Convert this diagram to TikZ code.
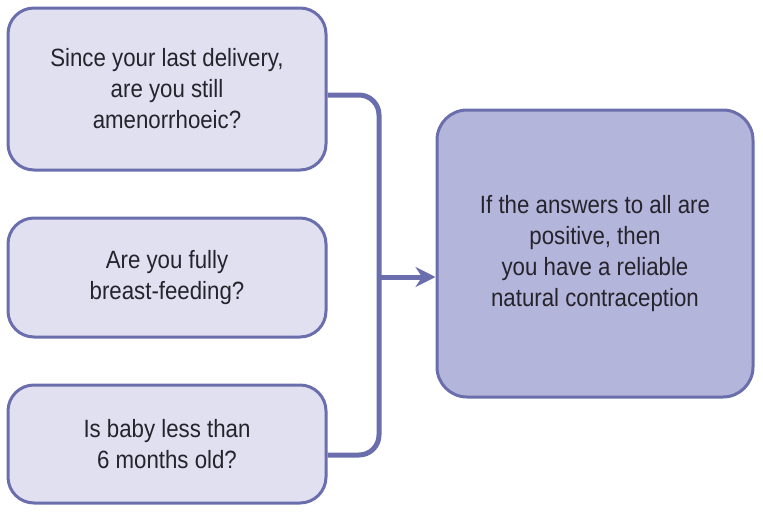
\documentclass[tikz,border=0pt]{standalone}
\usepackage{fontspec}
\setmainfont[FakeStretch=0.89]{Liberation Sans}
\usetikzlibrary{arrows.meta,positioning}

\definecolor{qborder}{HTML}{6A6EAD}
\definecolor{qfill}{HTML}{E0E0F0}
\definecolor{afill}{HTML}{B4B5DB}
\definecolor{qtext}{HTML}{25232B}

\tikzset{
  question/.style={draw=qborder, line width=3pt, fill=qfill, rounded corners=26pt,
    minimum width=318pt, align=center, text=qtext, font=\fontsize{25}{31}\selectfont},
  answer/.style={question, fill=afill, minimum width=316pt, minimum height=287pt, rounded corners=30pt},
  link/.style={draw=qborder, line width=5pt, rounded corners=20pt},
}

\begin{document}
\begin{tikzpicture}[x=1pt, y=-1pt, >={Stealth[length=20pt,width=20pt]}]
    \useasboundingbox (0,0) rectangle (763,514);
    \node[question, minimum height=162pt] (q1) at (167,89) {Since your last delivery,\\are you still\\amenorrhoeic?};
    \node[question, minimum height=119pt, below=45pt of q1] (q2) {Are you fully\\breast-feeding?};
    \node[question, minimum height=118pt, below=45pt of q2] (q3) {Is baby less than\\6 months old?};
    \node[answer] (ans) at (595,253.5) {If the answers to all are\\positive, then\\you have a reliable\\natural contraception};

    \coordinate (fork) at (379,277);
    \draw[link] ([yshift=-6pt]q1.east) -| (fork) |- ([yshift=-11pt]q3.east);
    \draw[link, ->] (fork) -- (fork -| ans.west);
\end{tikzpicture}
\end{document}
